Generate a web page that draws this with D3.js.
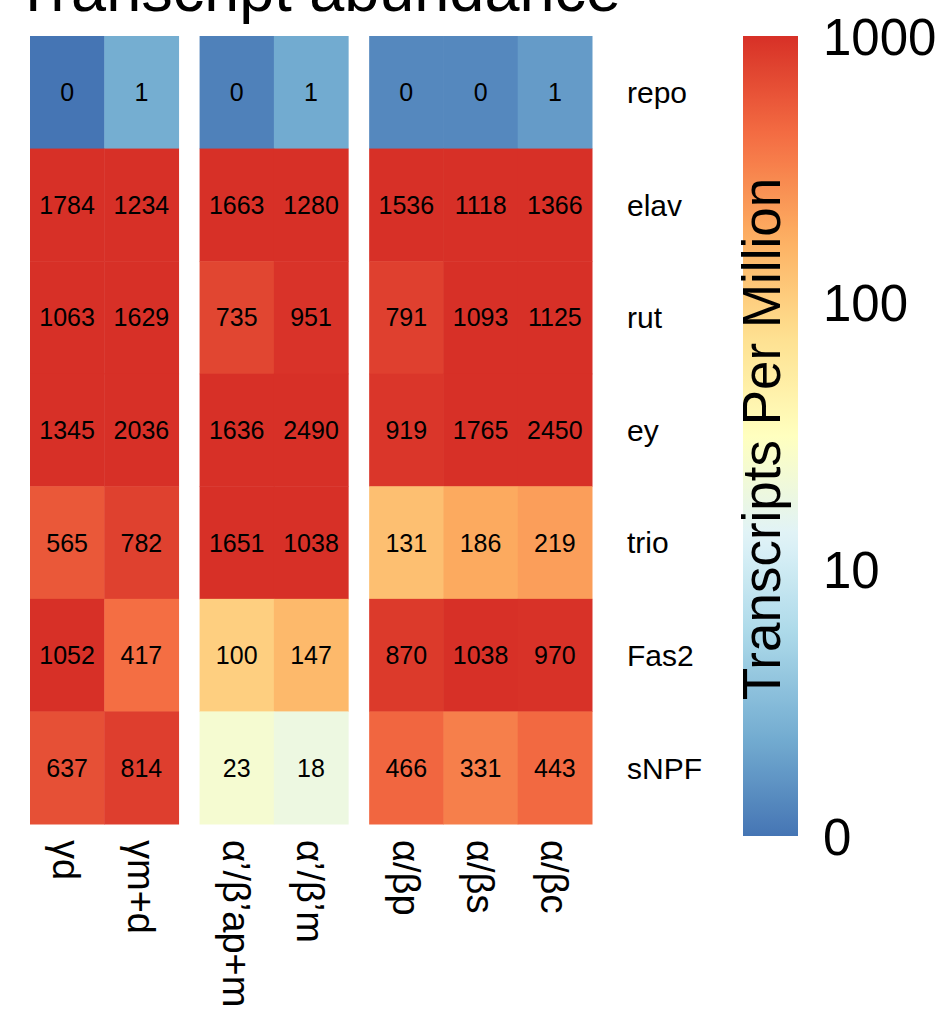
<!DOCTYPE html>
<html>
<head>
<meta charset="utf-8">
<script src="https://cdn.jsdelivr.net/npm/d3@7"></script>
<style>
  html, body { margin: 0; padding: 0; background: #fff; }
  svg { display: block; font-family: "Liberation Sans", Arial, Helvetica, sans-serif; }
</style>
</head>
<body>
<svg id="chart" width="945" height="1010"></svg>
<script>
// Cell types (columns), their group, and genes (rows)
const cellTypes = ["γd", "γm+d", "α’/β’ap+m", "α’/β’m", "α/βp", "α/βs", "α/βc"];
const cellGroup = [0, 0, 1, 1, 2, 2, 2];
const genes = ["repo", "elav", "rut", "ey", "trio", "Fas2", "sNPF"];

// Transcripts per million, one array per gene, ordered as cellTypes
const repo = [0, 1.4, 0.2, 1.3, 0.35, 0.35, 0.8];
const elav = [1784, 1234, 1663, 1280, 1536, 1118, 1366];
const rut  = [1063, 1629, 735, 951, 791, 1093, 1125];
const ey   = [1345, 2036, 1636, 2490, 919, 1765, 2450];
const trio = [565, 782, 1651, 1038, 131, 186, 219];
const Fas2 = [1052, 417, 100, 147, 870, 1038, 970];
const sNPF = [637, 814, 23, 18, 466, 331, 443];

// Colour key ticks (log10 steps) and their labels
const keySteps = [0, 1, 2, 3];
const keyLabels = ["0", "10", "100", "1000"];

const rows = { repo, elav, rut, ey, trio, Fas2, sNPF };
const cells = [];
genes.forEach(g => rows[g].forEach((v, i) => cells.push({ gene: g, col: i, value: v })));

const svg = d3.select("#chart");

// Colour: log10(TPM + 1) on 0..3, reversed RdYlBu, clamped at 1000
const palette = d3.schemeRdYlBu[9].slice().reverse();
const toLog = v => Math.log10(v + 1);
const colour = d3.scaleLinear()
  .domain(d3.range(palette.length).map(i => 3 * i / (palette.length - 1)))
  .range(palette)
  .interpolate(d3.interpolateRgb)
  .clamp(true);

// Column slots with a gap between cell-type groups
const groupGap = 0.283;
const slot = i => i + cellGroup[i] * groupGap;
const nSlots = cellTypes.length + (d3.max(cellGroup)) * groupGap;
const x = d3.scaleLinear().domain([0, nSlots]).range([30, 592]);
const colW = x(1) - x(0);
const y = d3.scaleBand().domain(genes).range([36, 824]);

// Title
svg.append("text")
  .attr("x", 14).attr("y", 11)
  .attr("font-size", 63)
  .attr("fill", "#000")
  .text("Transcript abundance");

// Heatmap cells
svg.append("g").selectAll("rect").data(cells).join("rect")
  .attr("x", d => x(slot(d.col)))
  .attr("y", d => y(d.gene))
  .attr("width", colW + 0.5)
  .attr("height", y.bandwidth() + 0.5)
  .attr("fill", d => colour(toLog(d.value)));

// Values in cells
svg.append("g").selectAll("text").data(cells).join("text")
  .attr("x", d => x(slot(d.col)) + colW / 2)
  .attr("y", d => y(d.gene) + y.bandwidth() / 2 + 9)
  .attr("text-anchor", "middle")
  .attr("font-size", 25)
  .attr("fill", "#000")
  .text(d => d3.format("d")(Math.round(d.value)));

// Gene labels
svg.append("g").selectAll("text").data(genes).join("text")
  .attr("x", 627)
  .attr("y", g => y(g) + y.bandwidth() / 2 + 10.8)
  .attr("font-size", 30)
  .attr("fill", "#000")
  .text(g => g);

// Cell-type labels, rotated to read downwards
svg.append("g").selectAll("text").data(cellTypes).join("text")
  .attr("transform", (c, i) => `translate(${x(slot(i)) + colW / 2 - 13.7},840) rotate(90)`)
  .attr("font-size", 38)
  .attr("fill", "#000")
  .text(c => c);

// Colour key
const keyX = 743, keyW = 55;
const keyY = d3.scaleLinear().domain([0, 3]).range([836, 36]);
const defs = svg.append("defs");
const grad = defs.append("linearGradient")
  .attr("id", "keyGrad")
  .attr("x1", 0).attr("y1", 1).attr("x2", 0).attr("y2", 0);
d3.range(0, 1.0001, 0.02).forEach(t => {
  grad.append("stop").attr("offset", t).attr("stop-color", colour(3 * t));
});
svg.append("rect")
  .attr("x", keyX).attr("y", keyY(3))
  .attr("width", keyW).attr("height", keyY(0) - keyY(3))
  .attr("fill", "url(#keyGrad)");

svg.append("g").selectAll("text").data(keySteps).join("text")
  .attr("x", 823)
  .attr("y", (s) => keyY(s) + 18.5)
  .attr("font-size", 51)
  .attr("fill", "#000")
  .text((s, i) => keyLabels[i]);

svg.append("text")
  .attr("transform", `translate(780,439) rotate(-90)`)
  .attr("text-anchor", "middle")
  .attr("font-size", 53)
  .attr("fill", "#000")
  .text("Transcripts Per Million");
</script>
</body>
</html>
